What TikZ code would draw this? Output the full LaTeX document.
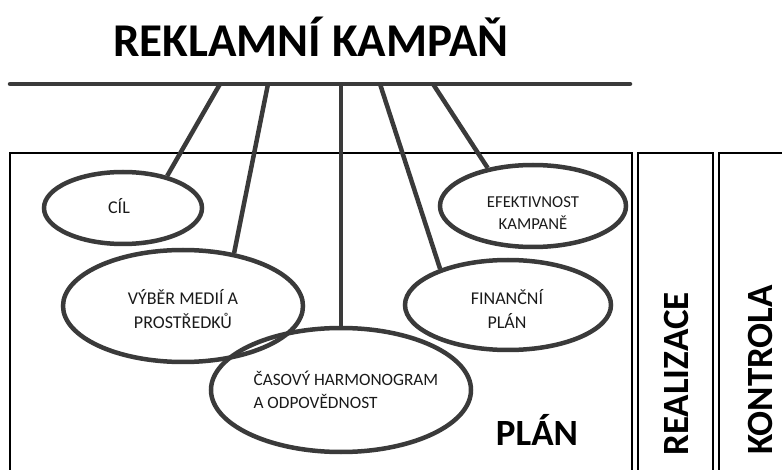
\documentclass[tikz,border=0pt]{standalone}
\usepackage{fontspec}
\setmainfont{Carlito}
\usetikzlibrary{shapes.geometric}
\definecolor{ink}{HTML}{3A3A3A}
\definecolor{txt}{HTML}{1A1A1A}
\begin{document}
\begin{tikzpicture}[x=1pt,y=-1pt,
  oval/.style={ellipse, draw=ink, line width=4.5pt, inner sep=0pt},
  link/.style={draw=ink, line width=4.5pt},
  frame/.style={draw=black, line width=2.8pt},
  small/.style={font=\fontsize{18}{24.5}\selectfont, align=center, anchor=base, text=txt},
  big/.style={font=\bfseries\fontsize{37}{40}\selectfont, anchor=base, text=black}]
\useasboundingbox (0,0) rectangle (782,470);
% frames
\draw[frame] (10,470) |- (632,153) -- (632,470);
\draw[frame] (638,470) |- (713,153) -- (713,470);
\draw[frame] (719,470) |- (782,153);
% title and bar
\node[font=\bfseries\fontsize{47}{50}\selectfont, anchor=base] (title) at (311,57) {REKLAMNÍ KAMPAŇ};
\coordinate (barL) at (10,84);
\coordinate (barR) at (630,84);
\draw[link, line cap=round] (barL) -- (barR);
\coordinate (b1) at (220,84);
\coordinate (b2) at (268,84);
\coordinate (b3) at (341,84);
\coordinate (b4) at (380,84);
\coordinate (b5) at (433,84);
% ellipses
\node[oval, minimum width=158pt, minimum height=72pt] (cil) at (123,208) {};
\node[oval, minimum width=240pt, minimum height=112pt] (vyber) at (183,306) {};
\node[oval, minimum width=260pt, minimum height=124pt] (cas) at (341,390) {};
\node[oval, minimum width=186pt, minimum height=82pt] (efek) at (533,206) {};
\node[oval, minimum width=206pt, minimum height=90pt] (fin) at (508,305) {};
% connectors
\draw[link] (b1) -- (cil.36);
\draw[link] (b2) -- (vyber.46);
\draw[link] (b3) -- (cas.north);
\draw[link] (b4) -- (fin.152);
\draw[link] (b5) -- (efek.140);
% texts
\node[small] (tcil) at (119,213.5) {CÍL};
\node[small] (tvyber) at (183,329) {VÝBĚR MEDIÍ A\\PROSTŘEDKŮ};
\node[small, font=\fontsize{17.3}{23}\selectfont, align=left, anchor=base west] (tcas) at (250,408) {ČASOVÝ HARMONOGRAM\\A ODPOVĚDNOST};
\node[small, font=\fontsize{16.7}{22}\selectfont] (tefek) at (533,230) {EFEKTIVNOST\\KAMPANĚ};
\node[small] (tfin) at (507,329) {FINANČNÍ\\PLÁN};
% section labels
\node[big] (plan) at (537,445) {PLÁN};
\node[big, rotate=90] (real) at (688,374) {REALIZACE};
\node[big, rotate=90] (kontr) at (772,370) {KONTROLA};
\end{tikzpicture}
\end{document}
